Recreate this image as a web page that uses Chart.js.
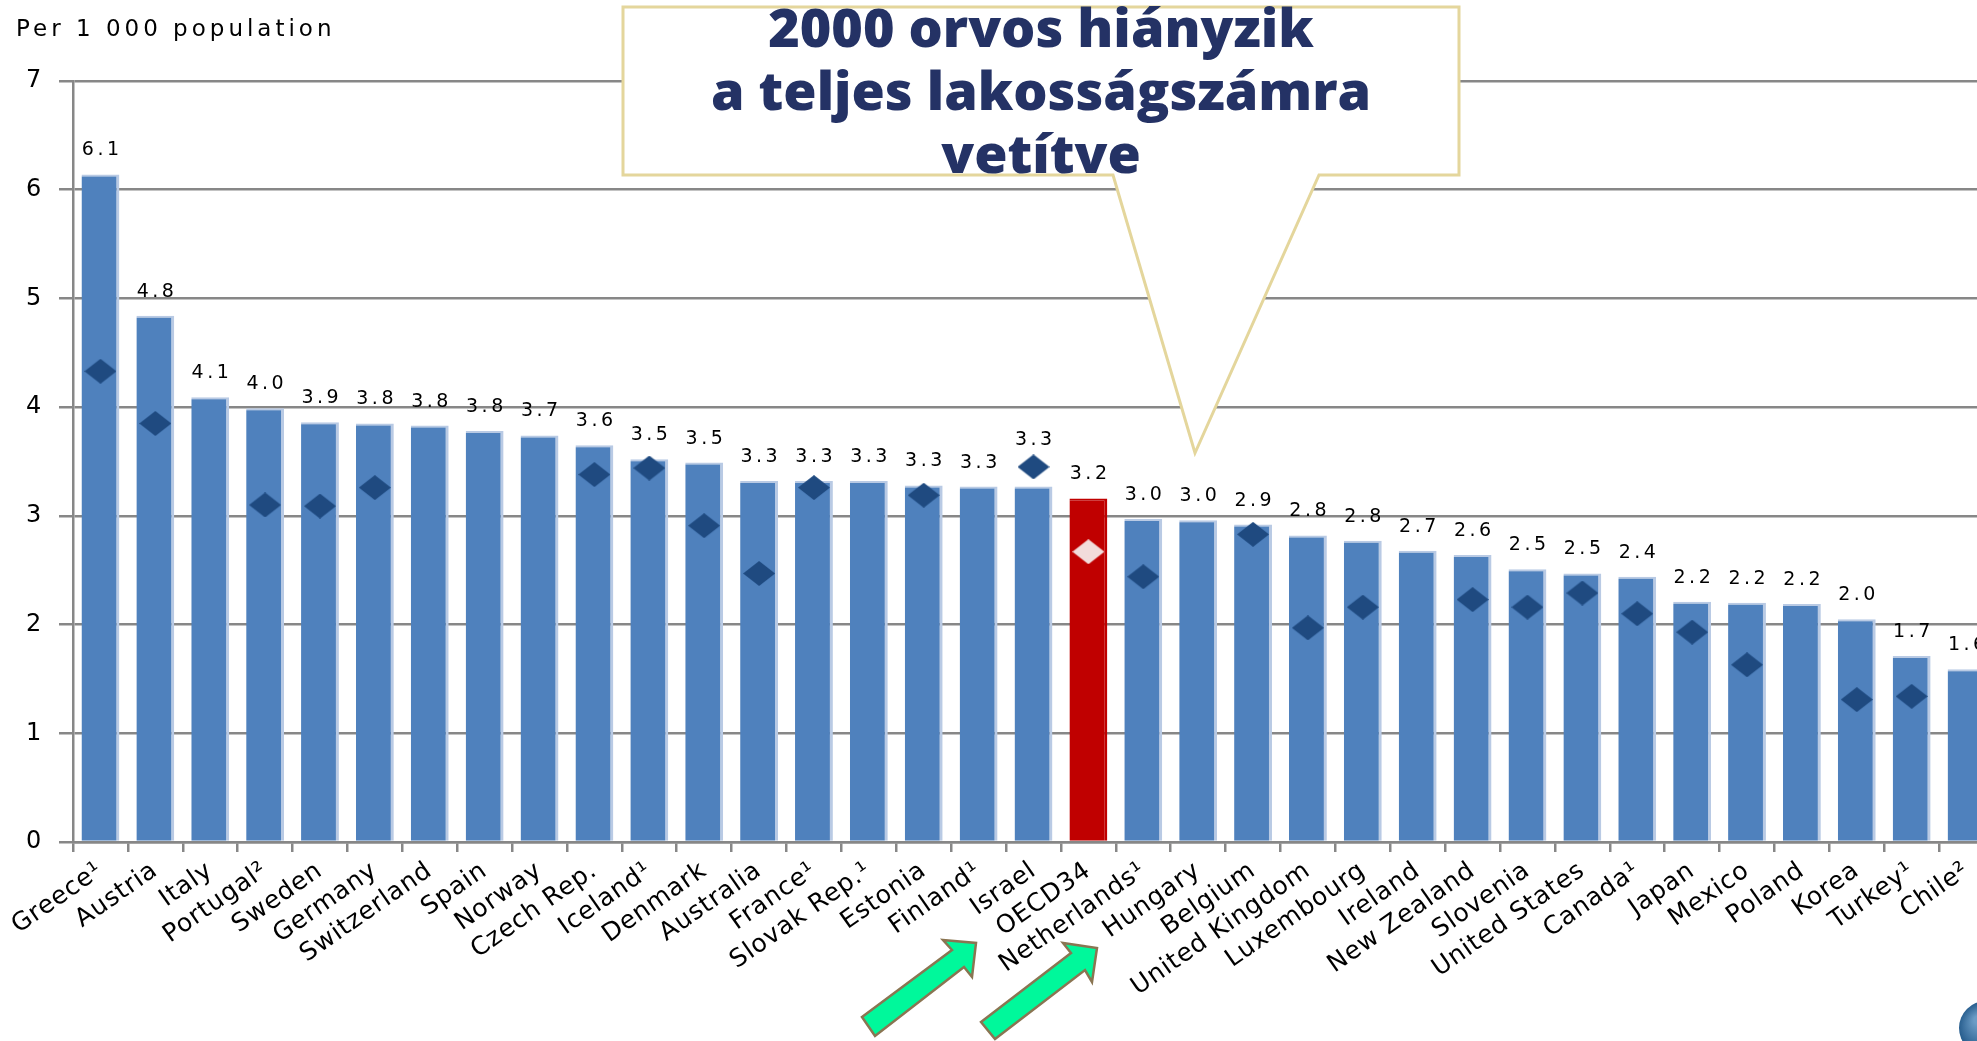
<!DOCTYPE html>
<html lang="hu">
<head>
<meta charset="UTF-8">
<title>Practising physicians per 1 000 population</title>
<script src="https://cdn.jsdelivr.net/npm/chart.js"></script>
<style>
  html, body { margin: 0; padding: 0; background: #fff; overflow: hidden; }
  #wrap { position: relative; width: 2010px; height: 1041px; }
</style>
</head>
<body>
<div id="wrap"><canvas id="docChart"></canvas></div>
<script>
// countries, in the order of the picture
const countries = ['Greece¹', 'Austria', 'Italy', 'Portugal²', 'Sweden', 'Germany', 'Switzerland', 'Spain',
  'Norway', 'Czech Rep.', 'Iceland¹', 'Denmark', 'Australia', 'France¹', 'Slovak Rep.¹', 'Estonia',
  'Finland¹', 'Israel', 'OECD34', 'Netherlands¹', 'Hungary', 'Belgium', 'United Kingdom', 'Luxembourg',
  'Ireland', 'New Zealand', 'Slovenia', 'United States', 'Canada¹', 'Japan', 'Mexico', 'Poland',
  'Korea', 'Turkey¹', 'Chile²'];

// bars (latest year)
const values2009 = [6.14, 4.84, 4.09, 3.99, 3.86, 3.85, 3.83, 3.78, 3.74, 3.65, 3.52, 3.49, 3.32, 3.32,
  3.32, 3.28, 3.27, 3.27, 3.16, 2.97, 2.96, 2.92, 2.82, 2.77, 2.68, 2.64, 2.51, 2.47, 2.44, 2.21,
  2.20, 2.19, 2.05, 1.71, 1.59];

// value labels printed above the bars
const labels2009 = ['6.1', '4.8', '4.1', '4.0', '3.9', '3.8', '3.8', '3.8', '3.7', '3.6', '3.5', '3.5',
  '3.3', '3.3', '3.3', '3.3', '3.3', '3.3', '3.2', '3.0', '3.0', '2.9', '2.8', '2.8', '2.7', '2.6',
  '2.5', '2.5', '2.4', '2.2', '2.2', '2.2', '2.0', '1.7', '1.6'];

// diamonds (year 2000), null where there is none
const values2000 = [4.33, 3.85, null, 3.10, 3.09, 3.26, null, null, null, 3.38, 3.44, 2.91, 2.47, 3.26,
  null, 3.19, null, 3.45, 2.67, 2.44, null, 2.83, 1.97, 2.16, null, 2.23, 2.16, 2.29, 2.10, 1.93,
  1.63, null, 1.31, 1.34, null];

const yTicks = [0, 1, 2, 3, 4, 5, 6, 7];
const unitLabel = 'Per 1 000 population';
const highlight = 'OECD34';
const calloutLines = ['2000 orvos hiányzik', 'a teljes lakosságszámra', 'vetítve'];

const BLUE = '#4f81bd', RED = '#c00000', EDGE = '#b9cae4', GRID = '#878787';
const FONT = '"DejaVu Sans", Verdana, sans-serif';

function diamond(color, w, h) {
  const c = document.createElement('canvas');
  c.width = w; c.height = h;
  const g = c.getContext('2d');
  g.fillStyle = color;
  g.beginPath();
  g.moveTo(w / 2, 0); g.lineTo(w, h / 2); g.lineTo(w / 2, h); g.lineTo(0, h / 2);
  g.closePath();
  g.fill();
  return c;
}
const navyDiamond = diamond('#1f4a80', 32, 25);
const pinkDiamond = diamond('#f2dcdb', 32, 25);

// letter spacing for the library's own axis text
const spacing = {
  id: 'spacing',
  beforeLayout(chart) { chart.ctx.letterSpacing = '0.8px'; },
  beforeDraw(chart) { chart.ctx.letterSpacing = '0.8px'; }
};

// numbers above bars (or above the diamond when it is higher)
const valueLabels = {
  id: 'valueLabels',
  afterDatasetsDraw(chart) {
    const ctx = chart.ctx;
    const bars = chart.getDatasetMeta(0).data;
    const dots = chart.getDatasetMeta(1).data;
    ctx.save();
    ctx.font = '19px ' + FONT;
    ctx.letterSpacing = '3.5px';
    ctx.fillStyle = '#000';
    ctx.textAlign = 'left';
    ctx.textBaseline = 'alphabetic';
    bars.forEach((bar, i) => {
      let ref = bar.y;
      if (values2000[i] !== null) ref = Math.min(ref, dots[i].y - 3);
      const w = ctx.measureText(labels2009[i]).width - 3.5;
      ctx.fillText(labels2009[i], bar.x - w / 2, ref - 26 + 7);
    });
    ctx.restore();
  }
};

// unit label, callout, arrows, logo corner
const overlay = {
  id: 'overlay',
  afterDraw(chart) {
    const ctx = chart.ctx;
    ctx.save();
    ctx.letterSpacing = '4px';
    ctx.font = '23px ' + FONT;
    ctx.fillStyle = '#000';
    ctx.textAlign = 'left';
    ctx.textBaseline = 'alphabetic';
    ctx.fillText(unitLabel, 16, 36);

    // callout box with pointer
    ctx.letterSpacing = '0px';
    ctx.beginPath();
    ctx.moveTo(623, 7);
    ctx.lineTo(1459, 7);
    ctx.lineTo(1459, 175);
    ctx.lineTo(1319, 175);
    ctx.lineTo(1195, 453);
    ctx.lineTo(1113, 175);
    ctx.lineTo(623, 175);
    ctx.closePath();
    ctx.fillStyle = '#fff';
    ctx.fill();
    ctx.lineWidth = 3;
    ctx.strokeStyle = '#e4d69c';
    ctx.stroke();

    ctx.font = '800 100px "Open Sans", sans-serif';
    const size = 100 * 660 / ctx.measureText(calloutLines[1]).width;
    ctx.font = '800 ' + size.toFixed(1) + 'px "Open Sans", sans-serif';
    ctx.fillStyle = '#243265';
    ctx.textAlign = 'center';
    [47, 110, 173].forEach((y, i) => ctx.fillText(calloutLines[i], 1041, y));

    // green arrows
    const arrows = [
      [[862, 1017], [952, 950], [943, 940], [976, 943], [972, 977], [964, 967], [875, 1036]],
      [[981, 1022], [1071, 953], [1063, 943], [1097, 948], [1092, 982], [1085, 970], [995, 1039]]
    ];
    arrows.forEach(pts => {
      ctx.beginPath();
      pts.forEach((p, k) => k ? ctx.lineTo(p[0], p[1]) : ctx.moveTo(p[0], p[1]));
      ctx.closePath();
      ctx.fillStyle = '#00f89b';
      ctx.fill();
      ctx.lineWidth = 2.5;
      ctx.strokeStyle = '#8a7552';
      ctx.stroke();
    });

    // sliver of logo in the corner
    const grad = ctx.createRadialGradient(1978, 1020, 4, 1985, 1028, 28);
    grad.addColorStop(0, '#6b9cc6');
    grad.addColorStop(1, '#1f5687');
    ctx.beginPath();
    ctx.arc(1986, 1028, 27, 0, Math.PI * 2);
    ctx.fillStyle = grad;
    ctx.fill();
    ctx.restore();
  }
};

new Chart(document.getElementById('docChart'), {
  type: 'bar',
  data: {
    labels: countries,
    datasets: [{
      label: '2009',
      data: values2009,
      backgroundColor: countries.map(c => c === highlight ? RED : BLUE),
      borderColor: countries.map(c => c === highlight ? RED : EDGE),
      borderWidth: { top: 2, right: 3, left: 0, bottom: 0 },
      borderSkipped: false,
      barPercentage: 0.69,
      categoryPercentage: 1,
      order: 1
    }, {
      type: 'line',
      label: '2000',
      data: values2000,
      showLine: false,
      pointStyle: ctx => countries[ctx.dataIndex] === highlight ? pinkDiamond : navyDiamond,
      pointRadius: 13,
      pointHoverRadius: 13,
      order: 0
    }]
  },
  options: {
    responsive: true,
    maintainAspectRatio: false,
    animation: false,
    events: [],
    layout: { padding: { top: 81, left: 0, right: 16, bottom: 0 } },
    plugins: { legend: { display: false }, tooltip: { enabled: false } },
    scales: {
      x: {
        grid: { drawOnChartArea: false, color: GRID, lineWidth: 2.5, tickLength: 10, tickColor: GRID },
        border: { color: GRID, width: 2.5 },
        ticks: {
          color: '#000', font: { family: FONT, size: 25 },
          minRotation: 35, maxRotation: 35, autoSkip: false, padding: 4
        },
        afterFit(s) { s.height = 199; s.paddingLeft = 0; s.paddingRight = 0; }
      },
      y: {
        min: yTicks[0],
        max: yTicks[yTicks.length - 1],
        ticks: { stepSize: yTicks[1] - yTicks[0], color: '#000', font: { family: FONT, size: 24 }, padding: 17 },
        grid: { color: GRID, lineWidth: 2.5, tickLength: 14, tickColor: GRID },
        border: { color: GRID, width: 2.5 },
        afterFit(s) { s.width = 73; }
      }
    }
  },
  plugins: [spacing, valueLabels, overlay]
});
</script>
</body>
</html>
